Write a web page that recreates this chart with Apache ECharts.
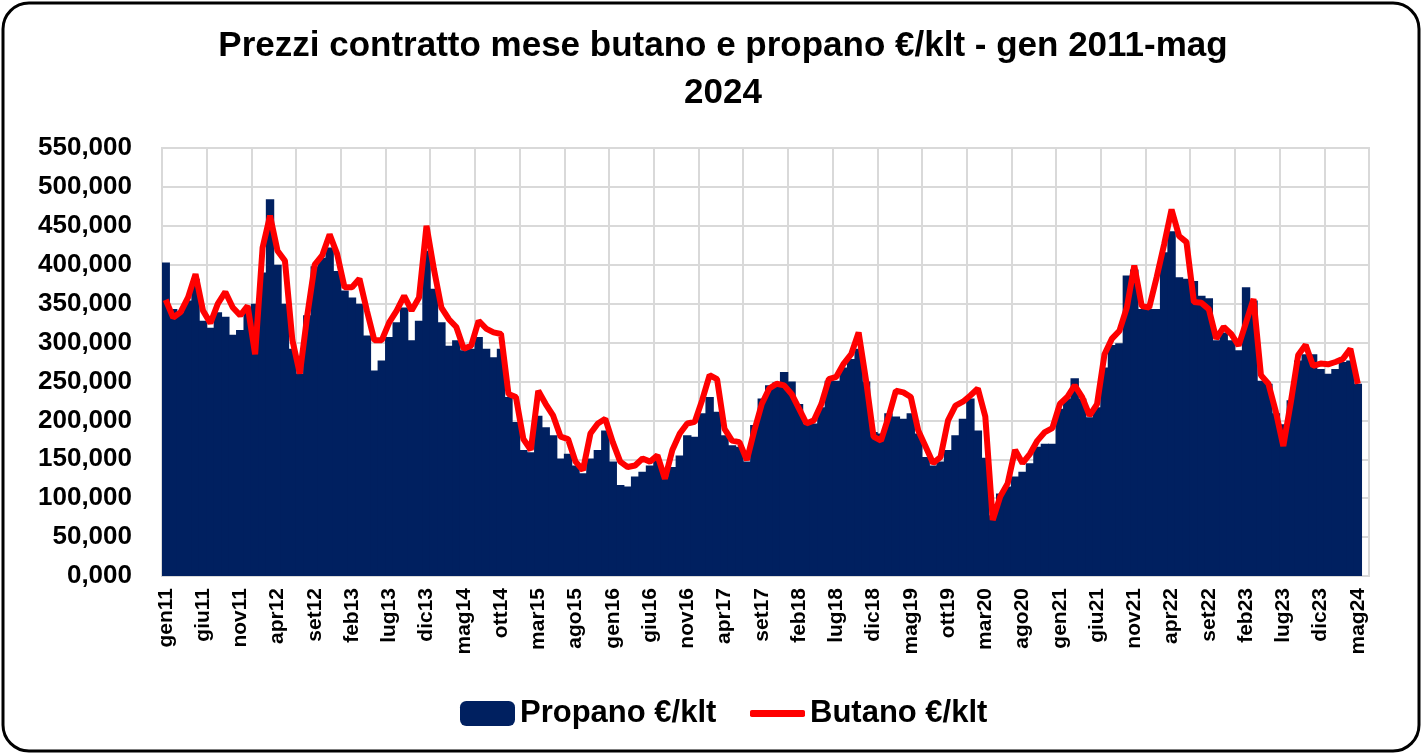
<!DOCTYPE html>
<html>
<head>
<meta charset="utf-8">
<title>Prezzi contratto mese butano e propano</title>
<script src="https://cdn.jsdelivr.net/npm/echarts@6/dist/echarts.min.js"></script>
<style>
  html, body { margin: 0; padding: 0; background: #fff; }
  #chart { width: 1423px; height: 755px; }
</style>
</head>
<body>
<div id="chart"></div>
<script>
// month names used for the category labels (gen11 ... mag24, plus one empty slot)
const mesi = ['gen', 'feb', 'mar', 'apr', 'mag', 'giu', 'lug', 'ago', 'set', 'ott', 'nov', 'dic'];
const anni = ['11', '12', '13', '14', '15', '16', '17', '18', '19', '20', '21', '22', '23', '24'];

// Propano €/klt, one row per year
const propano = [
  403, 343, 339, 354, 382, 328, 319, 339, 333, 310, 316, 345, // 2011
  350, 390, 484, 400, 350, 292, 260, 335, 398, 409, 422, 392, // 2012
  367, 358, 350, 309, 264, 277, 307, 326, 345, 303, 328, 418, // 2013
  369, 326, 296, 303, 290, 292, 307, 292, 281, 292, 230, 198, // 2014
  162, 159, 206, 191, 181, 151, 157, 142, 132, 151, 162, 187, // 2015
  147, 117, 115, 128, 134, 142, 149, 128, 140, 155, 181, 179, // 2016
  209, 230, 211, 181, 168, 166, 147, 194, 228, 245, 249, 262, // 2017
  250, 221, 196, 196, 217, 251, 251, 268, 279, 292, 250, 185, // 2018
  183, 209, 205, 202, 209, 183, 153, 142, 147, 162, 181, 202, // 2019
  228, 187, 152, 78, 106, 115, 128, 134, 145, 166, 170, 170,  // 2020
  215, 228, 254, 228, 204, 217, 268, 297, 299, 386, 394, 343, // 2021
  343, 343, 416, 443, 384, 382, 379, 360, 357, 303, 313, 303, // 2022
  290, 371, 354, 251, 247, 209, 195, 226, 277, 285, 285, 266, // 2023
  260, 266, 275, 277, 247                                     // 2024
];

// Butano €/klt
const butano = [
  355, 332, 339, 358, 388, 341, 325, 350, 365, 345, 335, 347, // 2011
  285, 422, 463, 418, 405, 303, 260, 335, 400, 412, 439, 414, // 2012
  371, 371, 382, 341, 303, 303, 326, 341, 360, 341, 358, 450, // 2013
  394, 345, 330, 320, 292, 296, 328, 318, 313, 311, 234, 230, // 2014
  176, 162, 238, 221, 206, 179, 176, 147, 136, 183, 196, 202, // 2015
  172, 147, 140, 142, 151, 147, 155, 125, 162, 183, 196, 198, // 2016
  226, 258, 253, 189, 174, 172, 149, 187, 221, 241, 247, 245, // 2017
  234, 215, 196, 200, 221, 253, 256, 273, 285, 313, 251, 179, // 2018
  174, 204, 238, 236, 230, 187, 166, 145, 153, 200, 219, 224, // 2019
  232, 241, 205, 72, 102, 119, 162, 145, 157, 174, 185, 190,  // 2020
  221, 230, 245, 230, 206, 221, 285, 305, 315, 345, 399, 347, // 2021
  345, 384, 426, 471, 437, 429, 352, 351, 343, 305, 320, 311, // 2022
  296, 326, 356, 258, 247, 211, 167, 223, 284, 297, 270, 273, // 2023
  272, 275, 279, 292, 247                                     // 2024
];

// y axis ticks
const yMin = 0, yMax = 550, yStep = 50;

// build the category list gen11 .. giu24 (the last one is left empty in the source)
let mesiLabel = [];
anni.forEach(a => {
  mesi.forEach(m => {
    if (mesiLabel.length < propano.length + 1) mesiLabel.push(m + a);
  });
});

const chart = echarts.init(document.getElementById('chart'));

const fontFam = '"Liberation Sans", Arial, sans-serif';
const legendText = {
  fontFamily: fontFam,
  fontSize: 31,
  fontWeight: 'bold',
  color: '#000'
};

const option = {
  backgroundColor: '#fff',
  animation: false,
  graphic: [{
    type: 'rect',
    shape: { x: 3, y: 3, width: 1416, height: 748, r: 26 },
    style: { fill: 'none', stroke: '#000', lineWidth: 3 },
    silent: true
  }],
  title: {
    text: 'Prezzi contratto mese butano e propano €/klt - gen 2011-mag\n2024',
    left: 718,
    textAlign: 'center',
    top: 18,
    textStyle: {
      fontFamily: fontFam,
      fontSize: 35,
      fontWeight: 'bold',
      color: '#000',
      lineHeight: 47
    }
  },
  // two legends so the bar gets a box and the line a thin stroke
  legend: [{
    data: ['Propano €/klt'],
    left: 455,
    top: 693,
    itemWidth: 55,
    itemHeight: 25,
    textStyle: legendText
  }, {
    data: [{ name: 'Butano €/klt', icon: 'roundRect' }],
    left: 745,
    top: 693,
    itemWidth: 55,
    itemHeight: 7,
    textStyle: legendText
  }],
  grid: {
    left: 162,
    right: 54,
    top: 148,
    bottom: 179,
    show: true,
    borderColor: '#d9d9d9',
    borderWidth: 2,
    containLabel: false
  },
  xAxis: {
    type: 'category',
    data: mesiLabel,
    boundaryGap: true,
    axisLine: { lineStyle: { color: '#d9d9d9', width: 2 } },
    axisTick: { show: false },
    axisLabel: {
      interval: 4,
      rotate: 90,
      margin: 12,
      color: '#000',
      fontFamily: fontFam,
      fontWeight: 'bold',
      fontSize: 21
    },
    splitLine: {
      show: true,
      interval: 5,
      lineStyle: { color: '#d9d9d9', width: 2 }
    }
  },
  yAxis: {
    type: 'value',
    min: yMin,
    max: yMax,
    interval: yStep,
    axisLine: { show: false },
    axisTick: { show: false },
    axisLabel: {
      margin: 30,
      color: '#000',
      fontFamily: fontFam,
      fontWeight: 'bold',
      fontSize: 26,
      formatter: v => v.toFixed(3).replace('.', ',')
    },
    splitLine: { lineStyle: { color: '#d9d9d9', width: 2 } }
  },
  series: [
    {
      name: 'Propano €/klt',
      type: 'bar',
      data: propano,
      barWidth: 8.4, // a bit wider than the band so no seams show
      itemStyle: { color: '#002060' },
      z: 2
    },
    {
      name: 'Butano €/klt',
      type: 'line',
      data: butano,
      symbol: 'none',
      showSymbol: false,
      lineStyle: { color: '#ff0000', width: 6 },
      itemStyle: { color: '#ff0000' },
      z: 3
    }
  ]
};

chart.setOption(option);
</script>
</body>
</html>
